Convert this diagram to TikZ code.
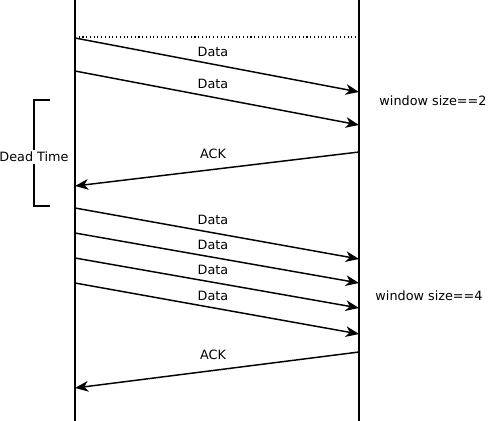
\documentclass[tikz,border=0pt]{standalone}
\usepackage{fontspec}
\setmainfont{DejaVu Sans}
\usetikzlibrary{arrows.meta}
\begin{document}
\begin{tikzpicture}[x=0.75pt,y=-0.75pt,
  lifeline/.style={line width=1.5pt},
  msg/.style={line width=1.1pt,-{Stealth[length=10pt,width=8pt,inset=3pt]}},
  lbl/.style={font=\fontsize{9.6}{11}\selectfont,inner sep=0pt},
  brace/.style={line width=1.1pt}]
\useasboundingbox (0,0) rectangle (489,421);
% lifelines
\coordinate (Ltop) at (75,0);   \coordinate (Lbot) at (75,421);
\coordinate (Rtop) at (359,0);  \coordinate (Rbot) at (359,421);
\draw[lifeline] (Ltop) -- (Lbot);
\draw[lifeline] (Rtop) -- (Rbot);
% dotted line
\coordinate (d1) at (75,37); \coordinate (d2) at (358,37);
\draw[line width=0.8pt,dotted] (d1) -- (d2);
% messages
\coordinate (s1) at (75,38);  \coordinate (e1) at (359,92);
\coordinate (s2) at (75,71);  \coordinate (e2) at (359,125);
\coordinate (s3) at (359,152); \coordinate (e3) at (75,186);
\coordinate (s4) at (75,208); \coordinate (e4) at (359,259);
\coordinate (s5) at (75,233); \coordinate (e5) at (359,283);
\coordinate (s6) at (75,258); \coordinate (e6) at (359,308);
\coordinate (s7) at (75,283); \coordinate (e7) at (359,334);
\coordinate (s8) at (359,352); \coordinate (e8) at (75,388);
\foreach \i in {1,...,8} \draw[msg] (s\i) -- (e\i);
% labels
\node[lbl] (l1) at (213,52) {Data};
\node[lbl] (l2) at (213,84) {Data};
\node[lbl] (l3) at (213,154) {ACK};
\node[lbl] (l4) at (213,220) {Data};
\node[lbl] (l5) at (213,245) {Data};
\node[lbl] (l6) at (213,270) {Data};
\node[lbl] (l7) at (213,296) {Data};
\node[lbl] (l8) at (213,355) {ACK};
\node[lbl] (w2) at (433,101) {window size==2};
\node[lbl] (w4) at (429,296) {window size==4};
% dead time bracket
\node[lbl,inner ysep=1pt] (dt) at (34,157) {Dead Time};
\coordinate (b1) at (50,100); \coordinate (b2) at (34,100);
\coordinate (b3) at (34,206); \coordinate (b4) at (50,206);
\draw[brace] (b1) -- (b2) -- (dt.north -| b2);
\draw[brace] (dt.south -| b3) -- (b3) -- (b4);
\end{tikzpicture}
\end{document}
